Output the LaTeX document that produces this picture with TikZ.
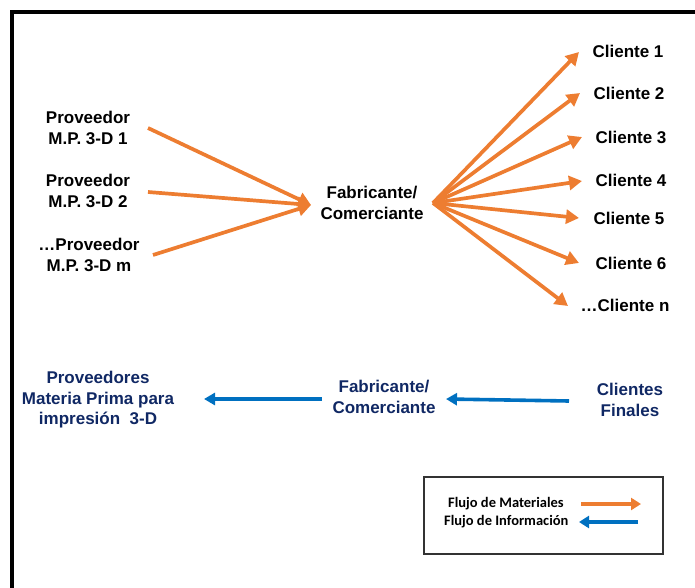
\documentclass[tikz,border=0pt]{standalone}
\usepackage{fontspec}
\setmainfont{Liberation Sans}
\newfontfamily\legendfont{Carlito}
\usetikzlibrary{arrows.meta}
\definecolor{matorange}{RGB}{237,125,49}
\definecolor{infoblue}{RGB}{0,112,192}
\definecolor{navytext}{RGB}{16,40,100}
\tikzset{
  x=1pt, y=-1pt,
  lbl/.style={font=\fontsize{17}{20.5}\selectfont\bfseries, align=center, inner sep=0pt, text=black},
  infolbl/.style={lbl, text=navytext},
  matflow/.style={draw=matorange, line width=3.7pt, -{Triangle[length=13pt,width=14pt]}},
  infoflow/.style={draw=infoblue, line width=3.6pt, -{Triangle[length=11pt,width=12pt]}},
  legtext/.style={font=\legendfont\fontsize{14.5}{16}\selectfont\bfseries, inner sep=0pt, anchor=west},
  legflow/.style={line width=3.6pt, -{Triangle[length=10pt,width=12pt]}}
}
\begin{document}
\begin{tikzpicture}
\useasboundingbox (0,0) rectangle (695,588);
% outer frame (top and left edges)
\draw[line width=3.5pt] (12,588) -- (12,12) -- (695,12);

% suppliers
\node[lbl] (p1) at (88,128) {Proveedor\\M.P. 3-D 1};
\node[lbl] (p2) at (88,191) {Proveedor\\M.P. 3-D 2};
\node[lbl] (pm) at (89,255) {\ldots Proveedor\\M.P. 3-D m};
\node[lbl] (fab) at (372,203) {Fabricante/\\Comerciante};

% customers
\node[lbl] (c1) at (628,51) {Cliente 1};
\node[lbl] (c2) at (629,93) {Cliente 2};
\node[lbl] (c3) at (631,137) {Cliente 3};
\node[lbl] (c4) at (631,180) {Cliente 4};
\node[lbl] (c5) at (629,218) {Cliente 5};
\node[lbl] (c6) at (631,263) {Cliente 6};
\node[lbl] (cn) at (625,305) {\ldots Cliente n};

% arrow endpoints
\coordinate (p1s) at (148,128);
\coordinate (p2s) at (148,192);
\coordinate (pms) at (153,255);
\coordinate (fabin) at (311,205);
\coordinate (hub) at (433,203);
\coordinate (t1) at (579,52);
\coordinate (t2) at (580,93);
\coordinate (t3) at (582,137);
\coordinate (t4) at (582,181);
\coordinate (t5) at (579,218);
\coordinate (t6) at (579,263);
\coordinate (tn) at (568,306);

\draw[matflow] (p1s) -- (fabin);
\draw[matflow] (p2s) -- (fabin);
\draw[matflow] (pms) -- (fabin);
\foreach \t in {t1,t2,t3,t4,t5,t6,tn}
  \draw[matflow] (hub) -- (\t);

% information flow
\node[infolbl] (ip) at (98,400) {Proveedores\\Materia Prima para\\impresión\ \ 3-D};
\node[infolbl] (ifab) at (384,397) {Fabricante/\\Comerciante};
\node[infolbl] (icl) at (630,400) {Clientes\\Finales};
\coordinate (ifs) at (322,399);
\coordinate (ipt) at (204,399);
\coordinate (ics) at (569,401);
\coordinate (ift) at (446,399);
\draw[infoflow] (ics) -- (ift);
\draw[infoflow] (ifs) -- (ipt);

% legend
\node[draw=black!80, line width=1.2pt, minimum width=239pt, minimum height=77pt, inner sep=0pt] (leg) at (543.5,515.5) {};
\node[legtext] (lm) at (448,504) {Flujo de Materiales};
\node[legtext] (li) at (444,522) {Flujo de Información};
\coordinate (lms) at (581,504);
\coordinate (lmt) at (641,504);
\coordinate (lis) at (638,522);
\coordinate (lit) at (579,522);
\draw[legflow, draw=matorange] (lms) -- (lmt);
\draw[legflow, draw=infoblue] (lis) -- (lit);
\end{tikzpicture}
\end{document}
